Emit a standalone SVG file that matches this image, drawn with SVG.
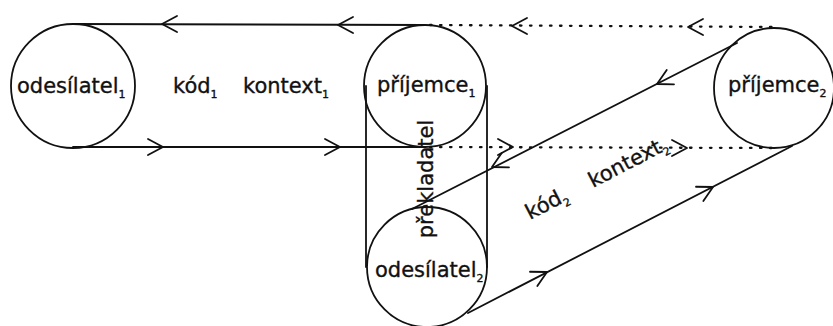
<svg xmlns="http://www.w3.org/2000/svg" xmlns:xlink="http://www.w3.org/1999/xlink" width="833" height="326" viewBox="0 0 833 326">
<style>
  .ln { fill: none; stroke: #111; stroke-width: 1.8; stroke-linecap: round; stroke-linejoin: round; }
  .dot { fill: none; stroke: #111; stroke-width: 2.3; stroke-dasharray: 1.5 8.5; stroke-linecap: round; }
  .t { font-family: "DejaVu Sans", Verdana, sans-serif; font-size: 21px; fill: #111; stroke: #111; stroke-width: 0.35; }
  .sub { font-size: 11px; }
</style>
<defs>
  <path id="chev" d="M-15,-8 L0,0 L-15,8" class="ln"/>
</defs>
<rect width="833" height="326" fill="#fff"/>

<g id="connectors">
  <line class="ln" x1="73" y1="24" x2="425" y2="25"/>
  <line class="dot" x1="430" y1="25" x2="774" y2="27"/>
  <line class="ln" x1="73" y1="147" x2="425" y2="147"/>
  <line class="dot" x1="430" y1="147" x2="774" y2="148"/>
  <line class="ln" x1="737" y1="43" x2="412" y2="209"/>
  <line class="ln" x1="468" y1="313" x2="792" y2="146"/>
  <use xlink:href="#chev" transform="translate(162,24) rotate(180)"/>
  <use xlink:href="#chev" transform="translate(338,25) rotate(180)"/>
  <use xlink:href="#chev" transform="translate(512,26) rotate(180)"/>
  <use xlink:href="#chev" transform="translate(688,27) rotate(180)"/>
  <use xlink:href="#chev" transform="translate(163,147)"/>
  <use xlink:href="#chev" transform="translate(340,147)"/>
  <use xlink:href="#chev" transform="translate(513,147)"/>
  <use xlink:href="#chev" transform="translate(687,148)"/>
  <use xlink:href="#chev" transform="translate(657,84) rotate(153)"/>
  <use xlink:href="#chev" transform="translate(492,167) rotate(153)"/>
  <use xlink:href="#chev" transform="translate(547,272) rotate(-27.3)"/>
  <use xlink:href="#chev" transform="translate(713,187) rotate(-27.3)"/>
</g>

<g id="prekladatel">
  <line class="ln" x1="366" y1="86" x2="366" y2="267"/>
  <line class="ln" x1="487" y1="86" x2="487" y2="267"/>
  <text class="t" transform="translate(433,179) rotate(-90)" text-anchor="middle">překladatel</text>
</g>

<g id="odesilatel1">
  <circle class="ln" cx="73" cy="86" r="62"/>
  <text class="t" x="17" y="93">odesílatel<tspan class="sub" dy="5">1</tspan></text>
</g>

<g id="prijemce1">
  <circle class="ln" cx="425" cy="86" r="61"/>
  <text class="t" x="377" y="92">příjemce<tspan class="sub" dy="5">1</tspan></text>
</g>

<g id="prijemce2">
  <circle class="ln" cx="774" cy="88" r="60"/>
  <text class="t" x="728" y="92">příjemce<tspan class="sub" dy="5">2</tspan></text>
</g>

<g id="odesilatel2">
  <circle class="ln" cx="427" cy="267" r="60"/>
  <text class="t" x="375" y="277">odesílatel<tspan class="sub" dy="5">2</tspan></text>
</g>

<g id="labels">
  <text class="t" x="173" y="93">kód<tspan class="sub" dy="5">1</tspan></text>
  <text class="t" x="243" y="93">kontext<tspan class="sub" dy="5">1</tspan></text>
  <text class="t" transform="translate(530,220) rotate(-27.3)">kód<tspan class="sub" dy="5">2</tspan></text>
  <text class="t" transform="translate(593,188) rotate(-27.3)">kontext<tspan class="sub" dy="5">2</tspan></text>
</g>
</svg>
